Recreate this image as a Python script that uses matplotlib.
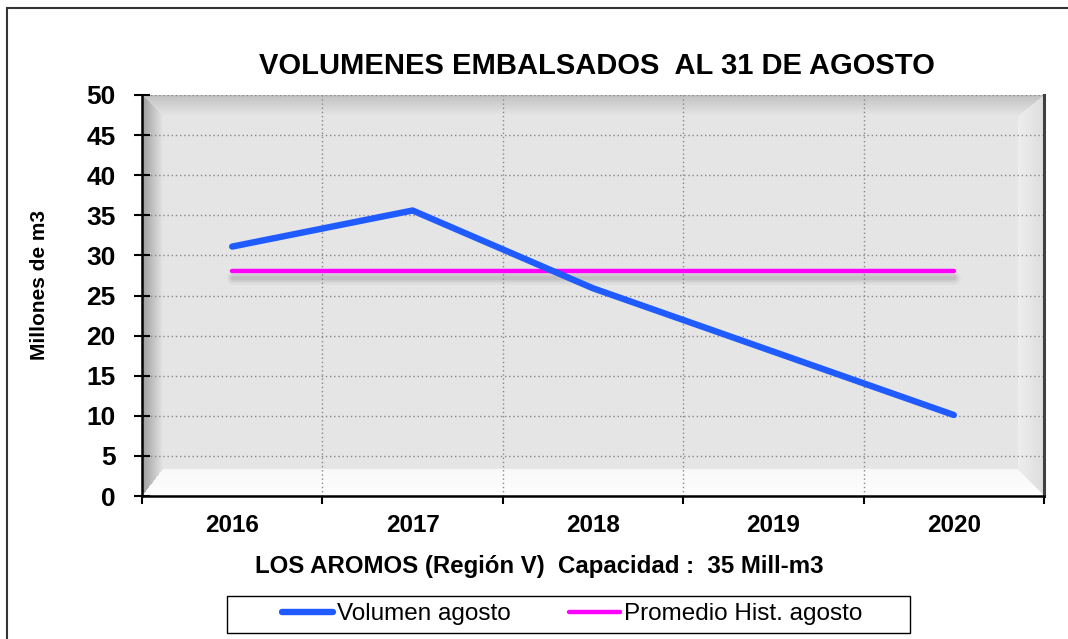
import numpy as np
import matplotlib.pyplot as plt
import matplotlib.patheffects as pe
from matplotlib.patches import Rectangle

plt.rcParams['font.family'] = ['Liberation Sans', 'DejaVu Sans']

years = ['2016', '2017', '2018', '2019', '2020']
volumen = [31.1, 35.6, 25.9, 18.0, 10.1]
promedio = [28.0, 28.0, 28.0, 28.0, 28.0]
yticks = [0, 5, 10, 15, 20, 25, 30, 35, 40, 45, 50]

fig = plt.figure(figsize=(10.68, 6.39), dpi=100)
ax = fig.add_axes([142 / 1068, 1 - 496 / 639, 902 / 1068, 401 / 639])

# bevelled grey plot area (Excel style)
H, W = 401, 902
yy, xx = np.mgrid[0:H, 0:W]
bl, bt, br, bb = 20.0, 20.0, 25.0, 26.0
nl, nt, nr, nb = xx / bl, yy / bt, (W - 1 - xx) / br, (H - 1 - yy) / bb
stack = np.stack([nl, nt, nr, nb, np.ones_like(nl)])
which = np.argmin(stack, axis=0)
t = np.clip(np.min(stack, axis=0), 0, 1)
shade = np.full((H, W), 0.90)
shade = np.where(which == 0, 0.62 + 0.27 * t, shade)
shade = np.where(which == 1, 0.76 + 0.14 * t, shade)
shade = np.where(which == 2, 0.87 + 0.06 * t, shade)
shade = np.where(which == 3, 0.995 - 0.02 * t, shade)
ax.imshow(np.dstack([shade] * 3), extent=[0, 1, 0, 1], transform=ax.transAxes,
          aspect='auto', zorder=0, interpolation='bilinear')

x = np.arange(len(years))
shadow = [pe.SimpleLineShadow(offset=(0.5, -5), shadow_color='#666666', alpha=0.07, linewidth=9),
          pe.SimpleLineShadow(offset=(0.5, -5), shadow_color='#666666', alpha=0.10, linewidth=6),
          pe.SimpleLineShadow(offset=(0.5, -5), shadow_color='#666666', alpha=0.12, linewidth=3),
          pe.Normal()]
ax.plot(x, promedio, color='#FF00FF', lw=3.2, solid_capstyle='round', zorder=3,
        label='Promedio Hist. agosto', path_effects=shadow)
ax.plot(x, volumen, color='#1F5BFF', lw=4.6, solid_capstyle='round', zorder=4,
        label='Volumen agosto')

ax.set_xlim(-0.5, len(years) - 0.5)
ax.set_ylim(0, 50)
ax.set_yticks(yticks)
ax.set_xticks(x)
ax.set_xticklabels(years)
ax.set_xticks(np.arange(-0.5, len(years), 1), minor=True)

ax.grid(True, which='minor', axis='x', color='#888888', ls=(0, (1, 2)), lw=1.0, zorder=1)
ax.grid(True, which='major', axis='y', color='#888888', ls=(0, (1, 2)), lw=1.0, zorder=1)
ax.grid(False, which='major', axis='x')

ax.tick_params(axis='y', which='major', direction='inout', length=12, width=1.5,
               pad=13, labelsize=19)
ax.tick_params(axis='x', which='major', length=0, pad=13, labelsize=17.5)
ax.tick_params(axis='x', which='minor', length=6, width=1.5, direction='out')
for lab in ax.get_xticklabels() + ax.get_yticklabels():
    lab.set_fontweight('bold')

ax.spines['top'].set_visible(False)
ax.spines['left'].set_linewidth(1.8)
ax.spines['bottom'].set_linewidth(1.8)
ax.spines['right'].set_linewidth(2.2)
ax.spines['right'].set_color('#404040')

fig.text(597 / 1068, 1 - 66 / 639, 'VOLUMENES EMBALSADOS  AL 31 DE AGOSTO',
         ha='center', va='center', fontsize=21, fontweight='bold')
fig.text(40 / 1068, 1 - 285 / 639, 'Millones de m3', rotation=90,
         ha='center', va='center', fontsize=15, fontweight='bold')
fig.text(539 / 1068, 1 - 567 / 639, 'LOS AROMOS (Región V)  Capacidad :  35 Mill-m3',
         ha='center', va='center', fontsize=17.3, fontweight='bold')

handles, labels = ax.get_legend_handles_labels()
leg = fig.legend(handles[::-1], labels[::-1], loc='center', ncol=2,
                 bbox_to_anchor=(572 / 1068, 1 - 614 / 639), fontsize=17.5,
                 frameon=False, handlelength=2.1, handletextpad=0.15,
                 columnspacing=2.4, borderpad=0.2)
for ln in leg.get_lines():
    ln.set_path_effects([])

# legend box
fig.patches.append(Rectangle((227 / 1068, 1 - 633 / 639), 683 / 1068, 37 / 639,
                             transform=fig.transFigure, fill=False,
                             edgecolor='black', lw=1.0, zorder=5))

# outer chart frame (left and top edges visible)
fig.patches.append(Rectangle((7 / 1068, -0.2), 1.5, 1.2 - 8 / 639,
                             transform=fig.transFigure, fill=False,
                             edgecolor='#333333', lw=1.5, zorder=0))

fig.savefig('out.png', dpi=100)
